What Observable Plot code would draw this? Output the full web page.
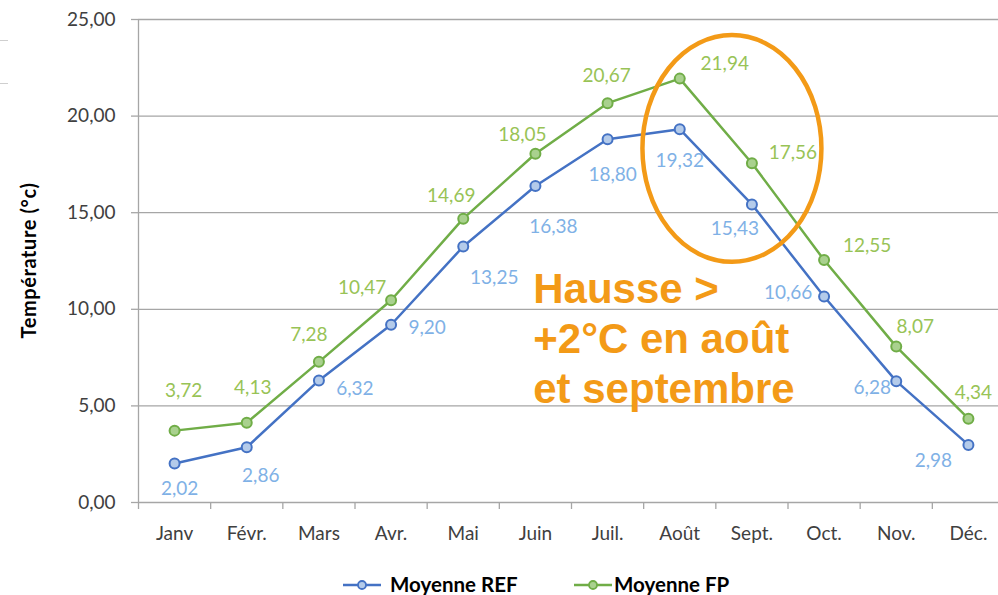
<!DOCTYPE html>
<html>
<head>
<meta charset="utf-8">
<script src="https://cdn.jsdelivr.net/npm/d3@7"></script>
<script src="https://cdn.jsdelivr.net/npm/@observablehq/plot@0.6"></script>
<style>
  html, body { margin: 0; padding: 0; background: #fff; overflow: hidden; width: 998px; height: 595px; }
  #wrap { position: relative; width: 998px; height: 595px; overflow: hidden; }
  #wrap > svg { position: absolute; left: 0; top: 0; max-width: none !important; }
  .legend-icon { position: absolute; }
  .legend-text { position: absolute; font-family: Lato, sans-serif; font-weight: bold; font-size: 20.5px; line-height: 1; color: #000; white-space: nowrap; }
  .artifact { position: absolute; left: 0; width: 8px; height: 1px; background: #cfcfcf; }
</style>
</head>
<body>
<div id="wrap"></div>
<script>
// ---- data ----
const months = ["Janv", "Févr.", "Mars", "Avr.", "Mai", "Juin", "Juil.", "Août", "Sept.", "Oct.", "Nov.", "Déc."];
const refValues = [2.02, 2.86, 6.32, 9.20, 13.25, 16.38, 18.80, 19.32, 15.43, 10.66, 6.28, 2.98];
const fpValues = [3.72, 4.13, 7.28, 10.47, 14.69, 18.05, 20.67, 21.94, 17.56, 12.55, 8.07, 4.34];
const yTicks = [0, 5, 10, 15, 20, 25];
const seriesNames = ["Moyenne REF", "Moyenne FP"];
const yTitle = "Température (°c)";
const annotationText = "Hausse >\n+2°C en août\net septembre";

// ---- layout (label offsets in px from each point) ----
const refLabelOffsets = [[5,25],[14,29],[36,9],[36,3],[31,31],[18,41],[5,36],[0,32],[-17,25],[-36,-4],[-24,7],[-35,16]];
const fpLabelOffsets = [[9,-40],[6,-35],[-10,-27],[-29,-12],[-12,-23],[-13,-19],[-1,-27],[45,-15],[41,-10],[43,-14],[19,-20],[5,-26]];

const REF_STROKE = "#4472c4", REF_FILL = "#b4cbea", REF_TEXT = "#7fb1e6";
const FP_STROKE = "#70ad47", FP_FILL = "#a9d18e", FP_TEXT = "#98c356";
const GRID = "#a6a6a6", ORANGE = "#f39a17";

const fmt = v => v.toFixed(2).replace(".", ",");
const rows = months.map((m, i) => ({i, month: m, ref: refValues[i], fp: fpValues[i]}));

const labelMarks = [];
rows.forEach((d, k) => {
  labelMarks.push(Plot.text([d], {x: "i", y: "ref", text: r => fmt(r.ref), dx: refLabelOffsets[k][0], dy: refLabelOffsets[k][1],
    fill: REF_TEXT, fontSize: 19, textAnchor: "middle", lineAnchor: "middle"}));
  labelMarks.push(Plot.text([d], {x: "i", y: "fp", text: r => fmt(r.fp), dx: fpLabelOffsets[k][0], dy: fpLabelOffsets[k][1],
    fill: FP_TEXT, fontSize: 19, textAnchor: "middle", lineAnchor: "middle"}));
});

const chart = Plot.plot({
  width: 1004,
  height: 595,
  marginTop: 19,
  marginBottom: 93,
  marginLeft: 138,
  marginRight: 0,
  style: {fontFamily: "Lato, sans-serif", background: "transparent", overflow: "visible", maxWidth: "none"},
  x: {type: "linear", domain: [-0.5, months.length - 0.5], label: null},
  y: {domain: [0, 25], label: null},
  marks: [
    Plot.ruleY(yTicks, {stroke: GRID, strokeWidth: 1.3}),
    Plot.ruleX([-0.5], {stroke: GRID, strokeWidth: 1.3}),
    Plot.axisY({ticks: yTicks, tickSize: 7, tickPadding: 16, tickFormat: fmt, stroke: GRID, strokeWidth: 1.3, fill: "#404040", fontSize: 19, label: null}),
    Plot.axisX({ticks: d3.range(months.length + 1).map(i => i - 0.5), tickSize: 7, tickFormat: () => "", stroke: GRID, strokeWidth: 1.3, label: null}),
    Plot.axisX({ticks: d3.range(months.length), tickSize: 0, tickPadding: 24, tickFormat: i => months[i], fill: "#404040", fontSize: 19, label: null}),
    Plot.line(rows, {x: "i", y: "ref", stroke: REF_STROKE, strokeWidth: 2.5}),
    Plot.line(rows, {x: "i", y: "fp", stroke: FP_STROKE, strokeWidth: 2.5}),
    Plot.dot(rows, {x: "i", y: "ref", r: 5, stroke: REF_STROKE, fill: REF_FILL, strokeWidth: 2}),
    Plot.dot(rows, {x: "i", y: "fp", r: 5, stroke: FP_STROKE, fill: FP_FILL, strokeWidth: 2}),
    ...labelMarks,
    Plot.text([annotationText], {x: 4.97, y: 12.15, textAnchor: "start", lineAnchor: "top", lineHeight: 1.19,
      fontFamily: "Liberation Sans, Arial, sans-serif", fontWeight: "bold", fontSize: 42, fill: ORANGE})
  ]
});

const svg = d3.select(chart);
const xs = chart.scale("x"), ys = chart.scale("y");

// y-axis title, centred on the plot area
svg.append("text")
  .attr("transform", `translate(36,${(ys.apply(0) + ys.apply(25)) / 2}) rotate(-90)`)
  .attr("text-anchor", "middle")
  .attr("font-family", "Lato, sans-serif").attr("font-weight", "bold").attr("font-size", 20)
  .attr("letter-spacing", 0.6).attr("fill", "#000")
  .text(yTitle);

// orange highlight ellipse around August / September
const cx = xs.apply(7.73), cy = ys.apply(18.3);
const rx = xs.apply(7.73 + 1.24) - cx, ry = cy - ys.apply(18.3 + 5.87);
svg.append("ellipse")
  .attr("cx", cx).attr("cy", cy).attr("rx", rx).attr("ry", ry)
  .attr("fill", "none").attr("stroke", ORANGE).attr("stroke-width", 4.5);

const wrap = document.getElementById("wrap");
wrap.appendChild(chart);

// small stray lines at the top-left edge of the original picture
[40, 83].forEach(t => { const a = document.createElement("div"); a.className = "artifact"; a.style.top = t + "px"; wrap.appendChild(a); });

// legend
const legendItems = [
  {name: seriesNames[0], stroke: REF_STROKE, fill: REF_FILL, icon: 343, text: 390},
  {name: seriesNames[1], stroke: FP_STROKE, fill: FP_FILL, icon: 574, text: 614}
];
legendItems.forEach(it => {
  const icon = document.createElement("div");
  icon.className = "legend-icon";
  icon.style.left = it.icon + "px";
  icon.style.top = "579px";
  icon.innerHTML = `<svg width="38" height="12" style="display:block"><line x1="0" y1="6" x2="38" y2="6" stroke="${it.stroke}" stroke-width="2.5"/><circle cx="19" cy="6" r="4" fill="${it.fill}" stroke="${it.stroke}" stroke-width="1.8"/></svg>`;
  wrap.appendChild(icon);
  const txt = document.createElement("div");
  txt.className = "legend-text";
  txt.style.left = it.text + "px";
  txt.style.top = "574px";
  txt.textContent = it.name;
  wrap.appendChild(txt);
});
</script>
</body>
</html>
